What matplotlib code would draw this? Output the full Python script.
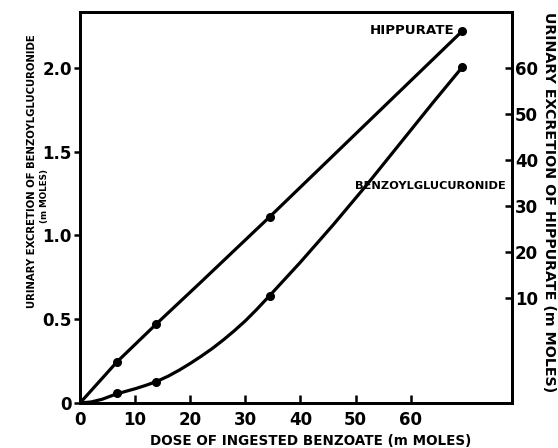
import matplotlib
matplotlib.use("Agg")
from matplotlib import pyplot as plt

# dose of ingested benzoate (mmoles) at the measured points
dose = [6.7, 13.8, 34.4, 69.4]
hippurate = [0.245, 0.47, 1.11, 2.22]        # plotted in left-axis units
glucuronide = [0.06, 0.125, 0.64, 2.005]

# smooth curves drawn through the data
hip_curve_x = [0, 6.7, 13.8, 21.9, 34.4, 50.0, 69.4]
hip_curve_y = [0, 0.245, 0.47, 0.72, 1.11, 1.605, 2.22]
glu_curve_x = [0, 2, 4, 6.7, 10, 12, 13.8, 16, 18, 20, 22, 24, 26, 28, 30, 32,
               34.4, 40, 46, 52, 58, 64, 69.4]
glu_curve_y = [0, 0.006, 0.022, 0.055, 0.085, 0.106, 0.127, 0.16, 0.196, 0.236,
               0.279, 0.325, 0.376, 0.431, 0.49, 0.556, 0.64, 0.84, 1.065,
               1.30, 1.545, 1.79, 2.005]

xticks = [0, 10, 20, 30, 40, 50, 60]
left_ticks = [0, 0.5, 1.0, 1.5, 2.0]
right_ticks = [10, 20, 30, 40, 50, 60]

plt.rcParams['font.family'] = ['DejaVu Sans']
plt.rcParams['font.weight'] = 'bold'

fig = plt.figure(figsize=(5.58, 4.48), dpi=100)
ax = fig.add_axes([80/558, 1-403/448, (512-80)/558, (403-12)/448])

ax.plot(hip_curve_x, hip_curve_y, 'k-', lw=2.3, solid_capstyle='round')
ax.plot(glu_curve_x, glu_curve_y, 'k-', lw=2.3, solid_capstyle='round')
ax.plot(dose, hippurate, 'ko', ms=5.5)
ax.plot(dose, glucuronide, 'ko', ms=5.5)

ax.set_xlim(0, 78.4)
ax.set_ylim(0, 2.333)
ax.set_xticks(xticks)
ax.set_yticks(left_ticks)
ax.set_yticklabels(['0', '0.5', '1.0', '1.5', '2.0'])
for s in ax.spines.values():
    s.set_linewidth(2)
ax.tick_params(axis='x', direction='in', length=6, width=1.8, labelsize=12, pad=6)
ax.tick_params(axis='y', direction='out', length=4, width=1.8, labelsize=12, pad=2)

# right axis for hippurate (mmoles)
ax2 = ax.twinx()
ax2.set_ylim(-12.8, 72.2)
ax2.set_yticks(right_ticks)
ax2.tick_params(axis='y', direction='in', length=5, width=1.8, labelsize=12, pad=2)
for s in ax2.spines.values():
    s.set_linewidth(2)

fig.canvas.draw()
renderer = fig.canvas.get_renderer()

def fit(t, size_px, horizontal=True):
    # scale font so the text spans about size_px pixels
    bb = t.get_window_extent(renderer)
    cur = bb.width if horizontal else bb.height
    t.set_fontsize(t.get_fontsize() * size_px / cur)

t = ax.text(69.4 - 1.4, 2.22, 'HIPPURATE', ha='right', va='center', fontsize=9)
fit(t, 84)
t = fig.text(355/558, 1-186/448, 'BENZOYLGLUCURONIDE', ha='left', va='center',
             fontsize=9)
fit(t, 150)

t = fig.text(32/558, 1-171/448, 'URINARY EXCRETION OF BENZOYLGLUCURONIDE',
             rotation=90, ha='center', va='center', fontsize=10)
fit(t, 278, False)
t = fig.text(45/558, 1-196/448, '(m MOLES)', rotation=90, ha='center',
             va='center', fontsize=10)
fit(t, 54, False)
t = fig.text(549/558, 1-202/448, 'URINARY EXCRETION OF HIPPURATE (m MOLES)',
             rotation=-90, ha='center', va='center', fontsize=10)
fit(t, 383, False)
t = fig.text(311/558, 1-441/448, 'DOSE OF INGESTED BENZOATE (m MOLES)',
             ha='center', va='center', fontsize=10)
fit(t, 322)

fig.savefig('out.png', dpi=100)
